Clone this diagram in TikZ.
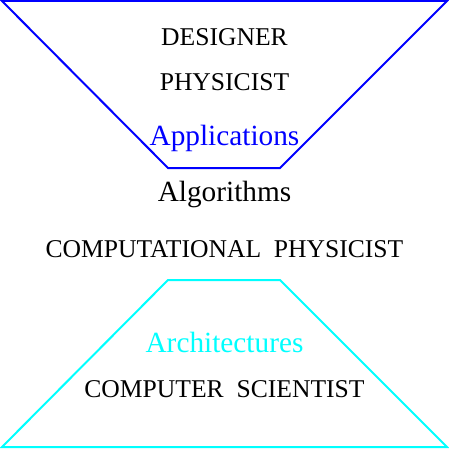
\documentclass[tikz,border=0pt]{standalone}
\usepackage{fontspec}
\setmainfont{Liberation Serif}
\usepackage{xcolor}
\usetikzlibrary{positioning}
\definecolor{appblue}{RGB}{0,0,255}
\definecolor{archcyan}{RGB}{0,255,255}

\begin{document}
\begin{tikzpicture}[x=1pt, y=-1pt,
    role/.style={anchor=base, inner sep=0pt, font=\fontsize{25.6}{30}\selectfont},
    layer/.style={anchor=base, inner sep=0pt, font=\fontsize{29.3}{34}\selectfont},
    funnel/.style={line width=2pt, line join=miter}
]
\useasboundingbox (0,0) rectangle (449,449);

% Corners
\coordinate (tl) at (2,1);
\coordinate (tr) at (447,1);
\coordinate (tbr) at (280,168);
\coordinate (tbl) at (168,168);
\coordinate (btl) at (168,280);
\coordinate (btr) at (280,280);
\coordinate (bbr) at (447,447);
\coordinate (bbl) at (2,447);

% Funnels
\draw[funnel, appblue] (tl) -- (tr) -- (tbr) -- (tbl) -- cycle;
\draw[funnel, archcyan] (btl) -- (btr) -- (bbr) -- (bbl) -- cycle;

% Labels
\node[role] (designer) at (224.5,46) {DESIGNER};
\node[role] (physicist) at (224.5,91) {PHYSICIST};
\node[layer, text=appblue] (apps) at (224.5,146) {Applications};
\node[layer] (algo) at (224.5,201) {Algorithms};
\node[role] (comphys) at (224.5,257) {COMPUTATIONAL\ \ PHYSICIST};
\node[layer, text=archcyan] (arch) at (224.5,352) {Architectures};
\node[role] (compsci) at (224.5,397) {COMPUTER\ \ SCIENTIST};

\end{tikzpicture}
\end{document}
